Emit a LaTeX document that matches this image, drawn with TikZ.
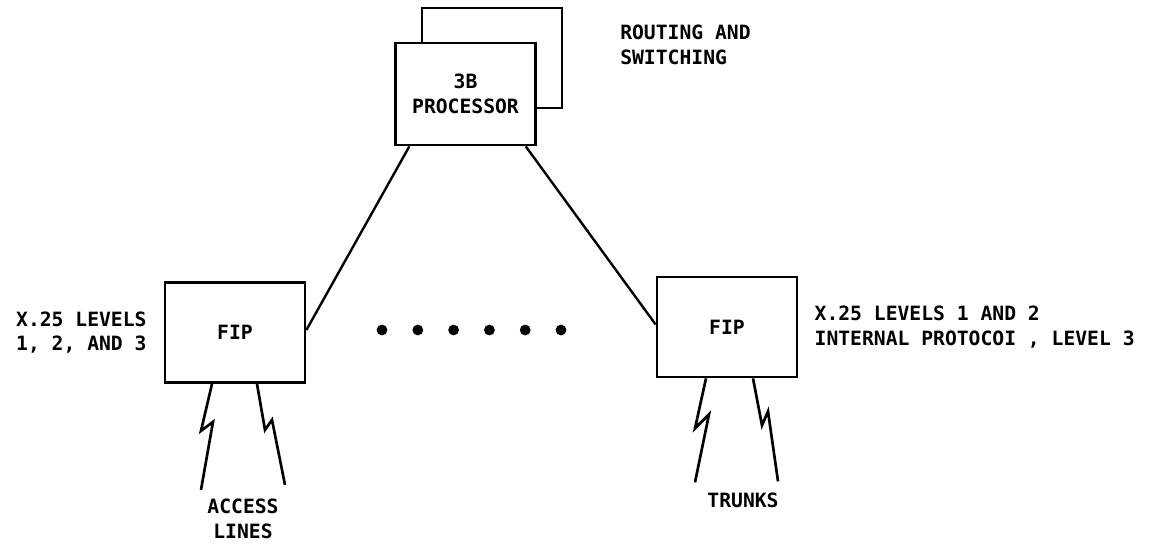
\documentclass[tikz,border=0pt]{standalone}
\usepackage{fontspec}
\setmonofont{DejaVu Sans Mono}
\usepackage{tikz}
\usetikzlibrary{positioning, calc}

\newcommand\plotfont{\fontsize{14pt}{17.5pt}\selectfont\ttfamily\bfseries}

\begin{document}
\begin{tikzpicture}[
    x=0.025cm, y=-0.025cm,
    box/.style={draw, rectangle, line width=1.9pt, minimum width=3.5cm, minimum height=2.5cm, fill=white, align=center, font=\plotfont},
    lbl/.style={inner sep=0pt, font=\plotfont},
    link/.style={line width=1.7pt},
    bolt/.style={line width=1.9pt, line join=miter},
    dot/.style={circle, fill, inner sep=0pt, minimum size=0.27cm}
]
    \useasboundingbox (0,0) rectangle (1149,548);

    % Processor with its twin behind
    \node[box] (procback) at (492,58) {};
    \node[box, minimum height=2.55cm] (proc) at (465.5,94) {3B\\PROCESSOR};
    \node[lbl, align=left, anchor=west] (routelbl) at (620,45) {ROUTING AND\\SWITCHING};

    % FIPs
    \node[box] (fipl) at (235,332.5) {FIP};
    \node[box] (fipr) at (727,327) {FIP};
    \node[lbl, align=right, left=0.42cm of fipl] (fipllbl) {X.25 LEVELS\\1, 2, AND 3};
    \node[lbl, align=left, right=0.4cm of fipr] (fiprlbl) {X.25 LEVELS 1 AND 2\\INTERNAL PROTOCOI , LEVEL 3};

    % Dots between the FIPs
    \foreach \i in {0,...,5}
        \node[dot] (dot\i) at (382+35.8*\i,330) {};

    % Connections
    \draw[link] (proc.223.6) -- (fipl.2);
    \draw[link] (proc.319.4) -- (fipr.178);

    % Access lines
    \draw[bolt] ($(fipl.south)+(-23,0)$) -- ++(-11,47) -- ++(12,-9) -- ++(-12,68);
    \draw[bolt] ($(fipl.south)+(22,0)$) -- ++(8,46) -- ++(7,-10) -- ++(13,65);
    \node[lbl, align=center] (acclbl) at (243,519) {ACCESS\\LINES};

    % Trunks
    \draw[bolt] ($(fipr.south)+(-21,0)$) -- ++(-11,50) -- ++(14,-14) -- ++(-14,68);
    \draw[bolt] ($(fipr.south)+(26,0)$) -- ++(9,47) -- ++(6,-14) -- ++(10,70);
    \node[lbl] (trunklbl) at (743,500) {TRUNKS};
\end{tikzpicture}
\end{document}
